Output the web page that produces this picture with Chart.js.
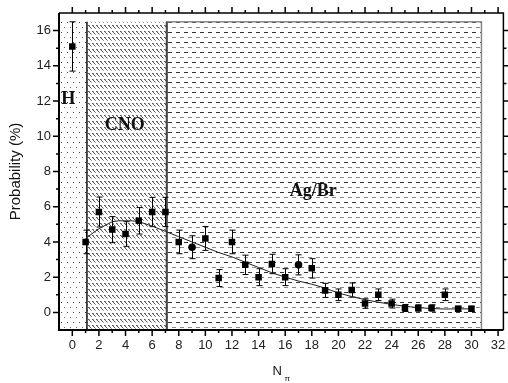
<!DOCTYPE html>
<html>
<head>
<meta charset="utf-8">
<script src="https://cdn.jsdelivr.net/npm/chart.js@4.4.1/dist/chart.umd.min.js"></script>
<style>
  html, body { margin: 0; padding: 0; background: #fff; }
  #wrap { width: 508px; height: 383px; position: relative; }
</style>
</head>
<body>
<div id="wrap"><canvas id="chart" width="508" height="383"></canvas></div>
<script>
// multiplicity of pions vs probability
const nPi = [0, 1, 2, 3, 4, 5, 6, 7, 8, 9, 10, 11, 12, 13, 14, 15, 16, 17, 18, 19, 20, 21, 22, 23, 24, 25, 26, 27, 28, 29, 30];
const prob = [15.1, 4.0, 5.7, 4.7, 4.45, 5.2, 5.7, 5.7, 4.0, 3.7, 4.2, 1.95, 4.0, 2.7, 2.0, 2.75, 2.0, 2.7, 2.5, 1.25, 1.0, 1.27, 0.5, 1.0, 0.5, 0.25, 0.25, 0.25, 1.0, 0.2, 0.2];
const probErr = [1.4, 0.67, 0.85, 0.74, 0.7, 0.75, 0.83, 0.83, 0.67, 0.65, 0.68, 0.48, 0.67, 0.55, 0.48, 0.55, 0.48, 0.57, 0.55, 0.4, 0.33, 0.4, 0.27, 0.33, 0.25, 0.2, 0.18, 0.18, 0.33, 0.15, 0.15];
const circlePoints = [9, 17];

// fitted curve
const fitX = [1, 2, 3, 3.5, 4.5, 5, 6, 7, 8, 9, 10, 11, 12, 13, 14, 15, 16, 17, 18, 19, 20, 21, 22, 23, 24, 25, 26, 27, 28, 29, 30];
const fitY = [4.2, 4.75, 5.15, 5.2, 5.2, 5.15, 4.9, 4.6, 4.3, 4.0, 3.7, 3.4, 3.15, 2.85, 2.55, 2.25, 2.0, 1.78, 1.6, 1.38, 1.1, 0.9, 0.72, 0.58, 0.45, 0.35, 0.27, 0.22, 0.19, 0.2, 0.2];

const xTicks = [0, 2, 4, 6, 8, 10, 12, 14, 16, 18, 20, 22, 24, 26, 28, 30, 32];
const yTicks = [0, 2, 4, 6, 8, 10, 12, 14, 16];

// target regions
const regionNames = ['H', 'CNO', 'Ag/Br'];
const regionFrom = [-1, 1.1, 7.1];
const regionTo = [1.1, 7.1, 30.75];
const regionTop = 16.5;
const labelAtX = [-0.3, 3.95, 18.1];
const labelAtY = [12.1, 10.6, 6.9];

function makePattern(w, h, draw) {
    let c = document.createElement('canvas');
    c.width = w;
    c.height = h;
    let g = c.getContext('2d');
    g.fillStyle = '#fff';
    g.fillRect(0, 0, w, h);
    draw(g);
    return c;
}

let dotTile = makePattern(6, 10, g => {
    g.fillStyle = '#444';
    g.fillRect(1, 2, 1, 1);
    g.fillStyle = '#666';
    g.fillRect(4, 7, 1, 1);
});
let hatchTile = makePattern(4, 6, g => {
    g.fillStyle = '#555';
    g.fillRect(0, 1, 1, 1);
    g.fillRect(1, 2, 1, 1);
    g.fillRect(2, 3, 1, 1);
    g.fillStyle = '#999';
    g.fillRect(3, 4, 1, 1);
    g.fillRect(1, 1, 1, 1);
});
let dashTile = makePattern(8, 10, g => {
    g.fillStyle = '#333';
    g.fillRect(0, 2, 4, 1);
    g.fillStyle = '#888';
    g.fillRect(4, 7, 4, 1);
});
const tiles = [dotTile, hatchTile, dashTile];

let regionPlugin = {
    id: 'regions',
    beforeDatasetsDraw(chart) {
        let ctx = chart.ctx;
        let xs = chart.scales.x, ys = chart.scales.y;
        let top = ys.getPixelForValue(regionTop);
        let bottom = ys.getPixelForValue(-1);
        ctx.save();
        for (let i = 0; i < regionNames.length; i++) {
            let x0 = xs.getPixelForValue(regionFrom[i]);
            let x1 = xs.getPixelForValue(regionTo[i]);
            ctx.fillStyle = ctx.createPattern(tiles[i], 'repeat');
            ctx.fillRect(x0, top, x1 - x0, bottom - top);
        }
        // borders of the regions
        ctx.lineWidth = 1.5;
        ctx.strokeStyle = '#888';
        let a0 = xs.getPixelForValue(regionFrom[2]);
        let a1 = xs.getPixelForValue(regionTo[2]);
        ctx.strokeRect(a0, top, a1 - a0, bottom - top);
        ctx.strokeStyle = '#111';
        let b = xs.getPixelForValue(regionTo[0]);
        ctx.beginPath();
        ctx.moveTo(b, top);
        ctx.lineTo(b, bottom);
        ctx.stroke();
        ctx.strokeStyle = '#444';
        ctx.lineWidth = 2;
        ctx.beginPath();
        ctx.moveTo(a0, top);
        ctx.lineTo(a0, bottom);
        ctx.stroke();

        // labels
        ctx.fillStyle = '#111';
        ctx.font = 'bold 18px "Liberation Serif", "Times New Roman", serif';
        ctx.textAlign = 'center';
        ctx.textBaseline = 'middle';
        for (let i = 0; i < regionNames.length; i++) {
            ctx.fillText(regionNames[i], xs.getPixelForValue(labelAtX[i]), ys.getPixelForValue(labelAtY[i]));
        }

        // error bars
        ctx.strokeStyle = '#000';
        ctx.lineWidth = 1;
        for (let i = 0; i < nPi.length; i++) {
            let px = Math.round(xs.getPixelForValue(nPi[i])) + 0.5;
            let hi = ys.getPixelForValue(prob[i] + probErr[i]);
            let lo = ys.getPixelForValue(prob[i] - probErr[i]);
            ctx.beginPath();
            ctx.moveTo(px, hi);
            ctx.lineTo(px, lo);
            ctx.moveTo(px - 3, hi);
            ctx.lineTo(px + 3, hi);
            ctx.moveTo(px - 3, lo);
            ctx.lineTo(px + 3, lo);
            ctx.stroke();
        }
        ctx.restore();
    },
    afterDraw(chart) {
        let ctx = chart.ctx;
        let xs = chart.scales.x, ys = chart.scales.y;
        let area = chart.chartArea;
        ctx.save();
        ctx.strokeStyle = '#000';
        // frame
        ctx.lineWidth = 2;
        ctx.beginPath();
        ctx.moveTo(area.left, area.top);
        ctx.lineTo(area.left, area.bottom);
        ctx.lineTo(area.right, area.bottom);
        ctx.stroke();
        ctx.lineWidth = 1.5;
        ctx.beginPath();
        ctx.moveTo(area.left, area.top);
        ctx.lineTo(area.right, area.top);
        ctx.lineTo(area.right, area.bottom);
        ctx.stroke();

        // tick marks, majors and minors
        ctx.lineWidth = 1.5;
        ctx.beginPath();
        for (let v = -1; v <= 32; v++) {
            let px = xs.getPixelForValue(v);
            if (px <= area.left + 1) continue;
            let len = (v % 2 === 0) ? 6 : 3;
            ctx.moveTo(px, area.bottom);
            ctx.lineTo(px, area.bottom + len);
            ctx.moveTo(px, area.top);
            ctx.lineTo(px, area.top - len);
        }
        for (let v = 0; v <= 17; v++) {
            let py = ys.getPixelForValue(v);
            if (py <= area.top + 1) continue;
            let len = (v % 2 === 0) ? 6 : 3;
            ctx.moveTo(area.left, py);
            ctx.lineTo(area.left - len, py);
            ctx.moveTo(area.right, py);
            ctx.lineTo(area.right + len, py);
        }
        ctx.stroke();

        // x title: N with pi subscript
        ctx.fillStyle = '#111';
        ctx.textAlign = 'center';
        ctx.textBaseline = 'middle';
        ctx.font = '13px "Liberation Sans", Arial, sans-serif';
        let cx = (area.left + area.right) / 2;
        ctx.fillText('N', cx - 4, 371);
        ctx.font = '8px "Liberation Sans", Arial, sans-serif';
        ctx.fillText('π', cx + 6, 379);
        ctx.restore();
    }
};

let ctx = document.getElementById('chart').getContext('2d');
let chart = new Chart(ctx, {
    type: 'scatter',
    data: {
        datasets: [{
            label: 'data',
            data: nPi.map((x, i) => ({x: x, y: prob[i]})),
            backgroundColor: '#000',
            borderColor: '#000',
            borderWidth: 0,
            pointStyle: c => circlePoints.includes(c.dataIndex) ? 'circle' : 'rect',
            pointRadius: c => circlePoints.includes(c.dataIndex) ? 3.8 : 4.6,
        }, {
            label: 'fit',
            data: fitX.map((x, i) => ({x: x, y: fitY[i]})),
            showLine: true,
            borderColor: '#222',
            borderWidth: 1,
            pointRadius: 0,
            tension: 0,
        }]
    },
    options: {
        responsive: false,
        animation: false,
        devicePixelRatio: 1,
        layout: {padding: {top: 13, right: 3, left: 0, bottom: 0}},
        plugins: {legend: {display: false}, tooltip: {enabled: false}},
        scales: {
            x: {
                type: 'linear',
                min: -1,
                max: 32.4,
                grid: {display: false, drawTicks: true, tickLength: 8},
                border: {display: false},
                afterBuildTicks: s => { s.ticks = xTicks.map(v => ({value: v})); },
                afterFit: s => { s.height = 53; },
                ticks: {
                    autoSkip: false,
                    maxRotation: 0,
                    padding: 0,
                    color: '#222',
                    font: {family: '"Liberation Sans", Arial, sans-serif', size: 13},
                },
            },
            y: {
                type: 'linear',
                min: -1,
                max: 17,
                grid: {display: false, drawTicks: true, tickLength: 8},
                border: {display: false},
                afterBuildTicks: s => { s.ticks = yTicks.map(v => ({value: v})); },
                afterFit: s => { s.width = 59; },
                ticks: {
                    autoSkip: false,
                    padding: 0,
                    color: '#222',
                    font: {family: '"Liberation Sans", Arial, sans-serif', size: 13},
                },
                title: {
                    display: true,
                    text: 'Probability (%)',
                    color: '#111',
                    padding: {top: 7, bottom: 0},
                    font: {family: '"Liberation Sans", Arial, sans-serif', size: 15},
                },
            },
        },
    },
    plugins: [regionPlugin],
});
</script>
</body>
</html>
